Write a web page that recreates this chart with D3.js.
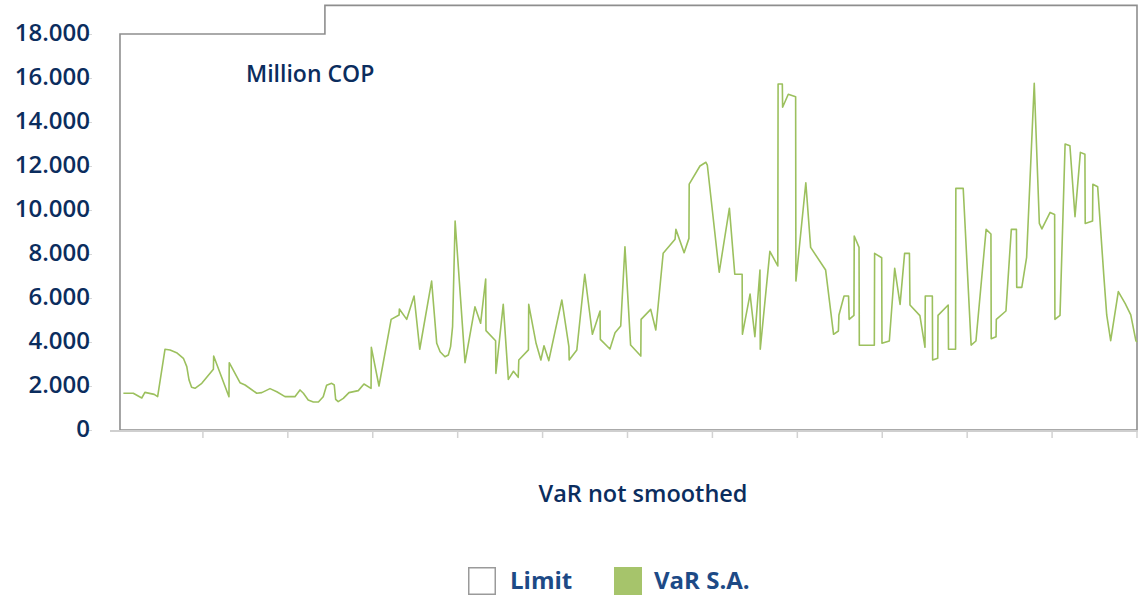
<!DOCTYPE html>
<html>
<head>
<meta charset="utf-8">
<script src="https://cdn.jsdelivr.net/npm/d3@7"></script>
<style>
  html, body { margin: 0; padding: 0; background: #ffffff; }
  svg { display: block; }
</style>
</head>
<body>
<svg id="chart" width="1138" height="597"></svg>
<script>
// ---- Data ----
const yTickValues = [0, 2000, 4000, 6000, 8000, 10000, 12000, 14000, 16000, 18000];
const yTickLabels = ["0", "2.000", "4.000", "6.000", "8.000", "10.000", "12.000", "14.000", "16.000", "18.000"];
const xTickDays = [30, 60, 90, 120, 150, 180, 210, 240, 270, 300, 330, 360];

const limitDays = [0.7, 73.1, 360];
const limitValues = [18000, 19300, 19300];

const varDays = [
  1.9, 5.4, 8.4, 9.5, 12.8, 14.0, 16.6, 18.4, 20.7, 23.1, 24.3, 25.1, 26.0, 27.2, 29.6, 33.7, 33.8, 39.2, 39.3,
  43.1, 44.9, 49.0, 50.8, 53.7, 56.1, 59.0, 62.5,
  64.3, 65.5, 67.2, 69.0, 70.8, 72.5, 73.7, 75.5, 76.4, 76.9, 77.8, 79.6, 81.6, 84.9, 86.9, 89.4, 89.5, 92.2,
  96.5, 99.3, 99.4, 102.0, 104.6, 106.6, 110.8, 112.6, 113.8, 115.5, 116.7, 117.5, 118.2, 119.1, 122.6,
  126.1, 128.1, 129.9, 130.0, 133.4, 133.5, 136.1, 137.9, 139.7, 141.4, 141.6, 145.0, 145.1, 147.7, 149.4,
  150.5, 152.2, 156.8, 159.3, 159.4, 162.1, 164.9, 167.6, 170.3, 170.4, 173.8, 175.6, 177.6, 179.1, 181.1,
  184.7, 184.8, 188.2, 190.0, 192.6, 196.8, 197.1, 200.0, 201.7, 201.8, 205.6, 207.7, 208.2, 212.4, 216.0,
  217.9, 220.5, 220.6, 223.3, 225.0, 226.8, 226.9, 230.3, 233.1, 233.2,
  234.7, 234.8, 236.8, 239.4, 239.5, 243.0, 244.7, 250.0, 252.8, 254.5, 254.7, 256.5, 258.1, 258.3, 260.0,
  260.1, 261.8, 261.9, 267.2, 267.3, 269.8, 269.9, 272.5, 274.4, 276.3, 277.9, 279.6, 279.8, 283.3, 285.1,
  285.2, 287.7, 287.8, 289.6, 289.7, 293.3, 293.4, 295.9, 296.0,
  298.6, 301.4, 303.1, 306.7, 308.4, 308.5, 310.2, 310.3, 313.7, 315.6, 317.4, 317.5, 319.3, 321.0, 323.7,
  325.5, 326.4, 329.3, 330.9, 331.0, 332.8, 334.6, 336.3, 338.1, 340.0, 341.6, 341.7, 344.3, 344.4, 346.1,
  348.3, 349.3, 350.7, 353.4, 355.8, 357.8, 359.6, 360.0
];
const varValues = [
  1670, 1670, 1455, 1710, 1620, 1515, 3670, 3640, 3515, 3260, 2880, 2270, 1940, 1895, 2120, 2760, 3360, 1515, 3060,
  2150, 2045, 1670, 1700, 1880, 1740, 1515, 1515,
  1820, 1670, 1365, 1275, 1275, 1515, 2030, 2120, 2045, 1395, 1290, 1440, 1700, 1790, 2090, 1895, 3760, 2000,
  5030, 5230, 5500, 5030, 6090, 3670, 6770, 3940, 3560, 3330, 3410, 3790, 4700, 9500, 3060,
  5600, 4850, 6860, 4515, 4060, 2575, 5710, 2300, 2670, 2395, 3180, 3640, 5710, 3940, 3180,
  3830, 3150, 5910, 3790, 3180, 3640, 7080, 4350, 5410, 4120, 3680, 4420, 4730, 8330, 3860,
  3360, 5030, 5485, 4545, 8030, 8670, 9120, 8060, 8710, 11180, 12000, 12170, 12045, 7170, 10080,
  7080, 7080, 4350, 6180, 4240, 7270, 3670, 8120, 7455, 15730,
  15730, 14670, 15260, 15150, 6770, 11240, 8300, 7270, 4350, 4500, 5230, 6090, 6090, 5030, 5210,
  8820, 8300, 3850, 3850, 8030, 7830, 3940, 4045, 7350, 5710, 8030, 8030, 5680, 5200, 3760,
  6090, 6090, 3180, 3260, 5210, 5680, 3670, 3670, 10985,
  10985, 3860, 4045, 9120, 8910, 4150, 4240, 5030, 5410, 9120, 9120, 6485, 6485, 7850, 15760,
  9390, 9140, 9890, 9800, 5030, 5210, 13000, 12920, 9700, 12620, 12530, 9390, 9500, 11170, 11060,
  6970, 5230, 4060, 6290, 5760, 5230, 4060, 4000
];

const seriesNames = ["Limit", "VaR S.A."];
const titleText = "VaR not smoothed";
const unitText = "Million COP";

// ---- Chart ----
const svg = d3.select("#chart");
const x = d3.scaleLinear().domain([0, 360]).range([118, 1137]);
const y = d3.scaleLinear().domain([0, 18000]).range([430, 34]);

const navy = "#0b2d5e";
const legendNavy = "#1d4a86";
const green = "#9cc05e";
const limitStroke = "#8e8e8e";
const fontFam = "'Open Sans', sans-serif";

// Limit area
const limitData = limitDays.map((d, i) => ({ d, v: limitValues[i] }));
svg.append("path")
  .datum(limitData)
  .attr("fill", "#ffffff")
  .attr("stroke", limitStroke)
  .attr("stroke-width", 1.6)
  .attr("d", d3.area().curve(d3.curveStepAfter)
    .x(p => x(p.d)).y0(y(0)).y1(p => y(p.v)));

// X axis line and ticks
svg.append("line")
  .attr("x1", 110).attr("x2", 1138)
  .attr("y1", y(0) + 1).attr("y2", y(0) + 1)
  .attr("stroke", "#cfcfcf").attr("stroke-width", 2);
svg.append("g").selectAll("line").data(xTickDays).join("line")
  .attr("x1", d => x(d)).attr("x2", d => x(d))
  .attr("y1", y(0) + 1).attr("y2", y(0) + 8)
  .attr("stroke", "#d2d2d2").attr("stroke-width", 1.5);

// Y axis labels
const yAxis = d3.axisLeft(y)
  .tickValues(yTickValues)
  .tickFormat((d, i) => yTickLabels[i])
  .tickSize(6)
  .tickPadding(-4);
const gy = svg.append("g").attr("transform", "translate(92,0)").call(yAxis);
gy.select(".domain").remove();
gy.selectAll(".tick line").attr("stroke", "#d6d6d6");
gy.selectAll(".tick text")
  .attr("fill", navy)
  .attr("font-family", fontFam)
  .attr("font-size", 24)
  .attr("font-weight", 600)
  .attr("dy", "0.28em");

// VaR line
const varData = varDays.map((d, i) => ({ d, v: varValues[i] }));
svg.append("path")
  .datum(varData)
  .attr("fill", "none")
  .attr("stroke", green)
  .attr("stroke-width", 1.6)
  .attr("stroke-linejoin", "round")
  .attr("d", d3.line().x(p => x(p.d)).y(p => y(p.v)));

// Unit label
svg.append("text")
  .attr("x", 246).attr("y", 74).attr("dy", "0.36em")
  .attr("fill", navy)
  .attr("font-family", fontFam)
  .attr("font-size", 23).attr("font-weight", 600)
  .text(unitText);

// Axis title
svg.append("text")
  .attr("x", 643).attr("y", 494).attr("dy", "0.36em")
  .attr("text-anchor", "middle")
  .attr("fill", navy)
  .attr("font-family", fontFam)
  .attr("font-size", 23.5).attr("font-weight", 600)
  .text(titleText);

// Legend
const legend = svg.append("g");
const legendItems = [
  { name: seriesNames[0], bx: 468, tx: 510, fill: "#ffffff", stroke: "#9a9a9a" },
  { name: seriesNames[1], bx: 614, tx: 654, fill: "#a6c46b", stroke: "none" }
];
legendItems.forEach(it => {
  const bordered = it.stroke !== "none";
  legend.append("rect")
    .attr("x", it.bx + (bordered ? 0.75 : 0))
    .attr("y", 567 + (bordered ? 0.75 : 0))
    .attr("width", bordered ? 26.5 : 28)
    .attr("height", bordered ? 26.5 : 28)
    .attr("fill", it.fill)
    .attr("stroke", it.stroke)
    .attr("stroke-width", 1.5);
  legend.append("text")
    .attr("x", it.tx).attr("y", 580).attr("dy", "0.36em")
    .attr("fill", legendNavy)
    .attr("font-family", fontFam)
    .attr("font-size", 24).attr("font-weight", 700)
    .text(it.name);
});
</script>
</body>
</html>
